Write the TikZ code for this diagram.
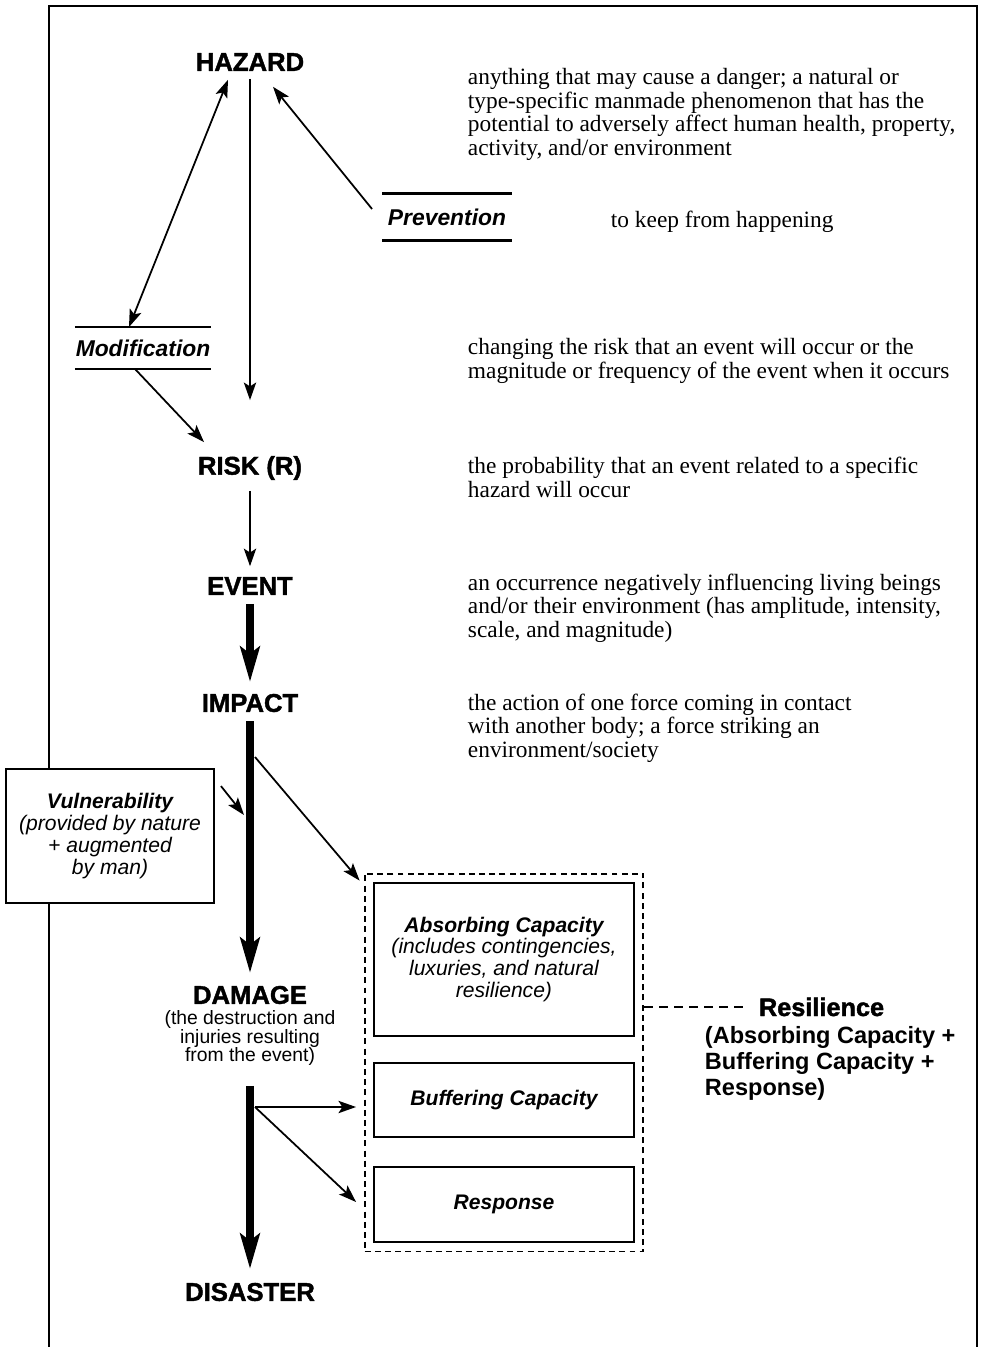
\documentclass[tikz,border=0pt]{standalone}
\usepackage{fontspec}
\setmainfont{Liberation Serif}
\setsansfont{Liberation Sans}
\newfontfamily\heavysans[BoldFeatures={FakeBold=1.6}]{Liberation Sans}
\usetikzlibrary{arrows.meta,positioning,fit}

\begin{document}
\begin{tikzpicture}[%
    x=0.02cm, y=-0.02cm,
    >={Stealth[length=10pt,width=7pt,inset=2.2pt]},
    line width=1.1pt,
    term/.style={font=\heavysans\bfseries\fontsize{14.6}{17}\selectfont, inner sep=0pt},
    note/.style={anchor=base west, align=left, inner sep=0pt,
        font=\fontsize{13.3}{13.3}\selectfont},
    ruled/.style={minimum width=2.56cm, inner sep=0pt,
        font=\heavysans\bfseries\itshape\fontsize{13}{15}\selectfont},
    rule/.style={line width=1.3pt},
    capbox/.style={draw, fill=white, minimum width=5.2cm, align=center, inner sep=0pt,
        font=\sffamily\itshape\fontsize{12}{12.5}\selectfont},
    flow/.style={->, line width=1pt},
    heavy/.style={-{Stealth[length=20pt,width=11pt,inset=4pt]}, line width=4.5pt},
    resfont/.style={inner sep=0pt, font=\sffamily\bfseries\fontsize{13.4}{14.7}\selectfont}
    ]
    \useasboundingbox (0,0) rectangle (985,1347);

    % outer frame, open at the bottom
    \draw (49,1347) -- (49,6) -- (977,6) -- (977,1347);

    % main chain
    \node[term] (hazard)   at (250,62)   {HAZARD};
    \node[term] (risk)     at (250,468)  {RISK (R)};
    \node[term] (event)    at (250,586)  {EVENT};
    \node[term] (impact)   at (250,703)  {IMPACT};
    \node[term] (damage)   at (250,995)  {DAMAGE};
    \node[align=center, inner sep=0pt, font=\sffamily\fontsize{11}{10.8}\selectfont,
          below=0.08cm of damage] (damagenote)
        {(the destruction and\\injuries resulting\\from the event)};
    \node[term] (disaster) at (250,1292) {DISASTER};

    % ruled labels
    \node[ruled, minimum height=0.9cm] (prevention)   at (447,217) {Prevention};
    \node[ruled, minimum height=0.8cm] (modification) at (143,348) {Modification};
    \foreach \n in {prevention,modification}
        \draw[rule] (\n.north west) -- (\n.north east) (\n.south west) -- (\n.south east);

    % descriptions (anchored on their last baseline)
    \node[note] (hazardnote) at (467,155)
        {anything that may cause a danger; a natural or\\
         type-specific manmade phenomenon that has the\\
         potential to adversely affect human health, property,\\
         activity, and/or environment};
    \node[note] (preventionnote) at (610,227) {to keep from happening};
    \node[note] (modificationnote) at (467,378)
        {changing the risk that an event will occur or the\\
         magnitude or frequency of the event when it occurs};
    \node[note] (risknote) at (467,497)
        {the probability that an event related to a specific\\
         hazard will occur};
    \node[note] (eventnote) at (467,637)
        {an occurrence negatively influencing living beings\\
         and/or their environment (has amplitude, intensity,\\
         scale, and magnitude)};
    \node[note] (impactnote) at (467,757)
        {the action of one force coming in contact\\
         with another body; a force striking an\\
         environment/society};

    % vulnerability box over the frame
    \node[capbox, minimum width=4.16cm, minimum height=2.68cm] (vulnerability) at (110,836)
        {{\bfseries Vulnerability}\\(provided by nature\\+ augmented\\by man)};

    % resilience boxes
    \node[capbox, minimum height=3.06cm] (absorbing) at (504,959.5)
        {{\bfseries Absorbing Capacity}\\(includes contingencies,\\luxuries, and natural\\resilience)};
    \node[capbox, minimum height=1.48cm] (buffering) at (504,1100)
        {\bfseries Buffering Capacity};
    \node[capbox, minimum height=1.5cm] (response) at (504,1204.5)
        {\bfseries Response};
    \node[draw, line width=1.1pt, dash pattern=on 3.4pt off 2.4pt, inner sep=0.17cm,
          fit=(absorbing)(buffering)(response)] (resilbox) {};
    \node[resfont, anchor=base west, font=\heavysans\bfseries\fontsize{14.4}{16}\selectfont]
        (resilience) at (758,1016) {Resilience};
    \node[resfont, anchor=base west, align=left] (resiliencenote) at (704,1095)
        {(Absorbing Capacity +\\Buffering Capacity +\\Response)};

    \coordinate (vulnhit)    at (244,815);
    \coordinate (impactfork) at (255,757);
    \coordinate (damagefork) at (255,1107);

    % connectors
    \draw[flow, shorten <=0.14cm, shorten >=1.1cm] (hazard.south) -- (risk.north);
    \draw[flow, <->] ([xshift=-0.44cm,yshift=-0.16cm]hazard.south)
        -- ([xshift=-0.28cm]modification.north);
    \draw[flow] ([xshift=-0.2cm,yshift=0.16cm]prevention.west)
        -- ([xshift=0.46cm,yshift=-0.3cm]hazard.south);
    \draw[flow] ([xshift=-0.16cm]modification.south)
        -- ([xshift=0.14cm,yshift=0.26cm]risk.north west);
    \draw[flow, shorten <=0.2cm, shorten >=0.2cm] (risk.south) -- (event.north);
    \draw[heavy, shorten <=0.16cm, shorten >=0.22cm] (event.south) -- (impact.north);
    \draw[heavy, shorten <=0.16cm, shorten >=0.24cm] (impact.south) -- (damage.north);
    \draw[heavy, shorten <=0.38cm, shorten >=0.26cm] (damagenote.south) -- (disaster.north);
    \draw[flow] ([xshift=0.12cm,yshift=-0.36cm]vulnerability.north east) -- (vulnhit);
    \draw[flow] (impactfork) -- ([xshift=-0.08cm,yshift=-0.16cm]resilbox.north west);
    \draw[flow] (damagefork) -- ([xshift=-0.34cm,yshift=-0.14cm]buffering.west);
    \draw[flow] (damagefork) -- ([xshift=-0.34cm,yshift=0.05cm]response.west);
    \draw[line width=1.2pt, dash pattern=on 5pt off 3.5pt, shorten >=0.26cm]
        (resilbox.east |- resilience.west) -- (resilience.west);
\end{tikzpicture}
\end{document}
